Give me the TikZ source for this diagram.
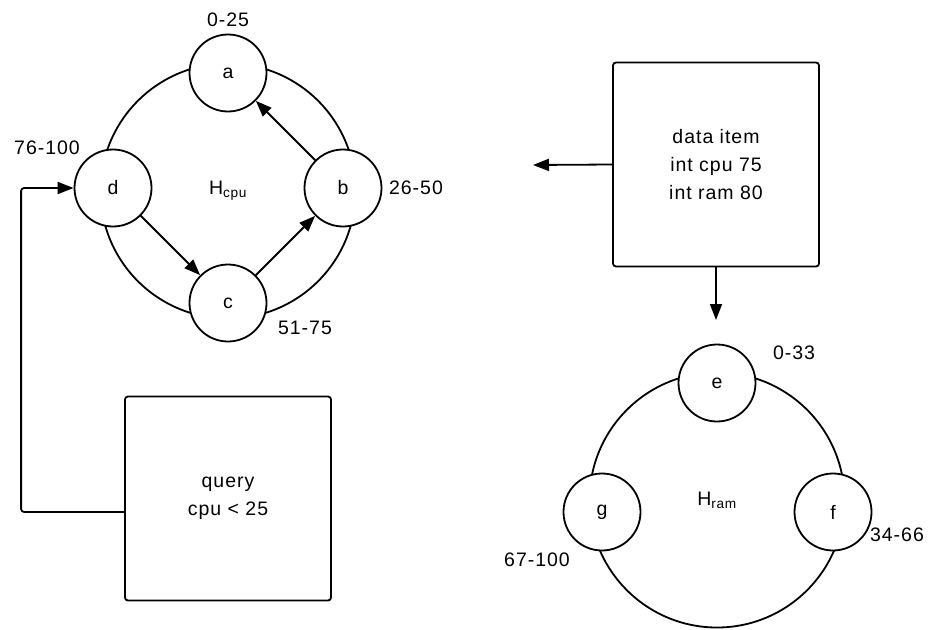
\documentclass[tikz,border=0pt]{standalone}
\usepackage{fontspec}
\setmainfont{Liberation Sans}[LetterSpace=5]
\usetikzlibrary{arrows.meta}

\begin{document}
\begin{tikzpicture}[x=1pt, y=-1pt, line width=1.8pt,
              every node/.style = {font=\fontsize{19.5}{28}\selectfont, align=center},
              ring/.style = {shape=circle, draw, minimum size=255pt, inner sep=0pt},
              slot/.style = {shape=circle, draw, fill=white, minimum size=77pt, inner sep=0pt},
              item/.style = {draw, rounded corners=3pt, minimum width=206pt, minimum height=204pt},
              arr/.style = {-{Triangle[length=16pt,width=12pt]}}]
  \useasboundingbox (0,0) rectangle (928,629);

  % cpu ring
  \node[ring] (cpu) at (228,191) {H\textsubscript{cpu}};
  \node[slot] (a) at (228,73)  {a};
  \node[slot] (b) at (343,188) {b};
  \node[slot] (c) at (228,303) {c};
  \node[slot] (d) at (113,188) {d};
  \node (ra) at (228,20)  {0-25};
  \node (rb) at (416,188) {26-50};
  \node (rc) at (305,328) {51-75};
  \node (rd) at (47,148)  {76-100};
  \draw[arr] (b) -- (a);
  \draw[arr] (d) -- (c);
  \draw[arr] (c) -- (b);

  % ram ring
  \node[ring] (ram) at (717,500) {H\textsubscript{ram}};
  \node[slot] (e) at (717,383) {e};
  \node[slot] (f) at (833,512) {f};
  \node[slot] (g) at (602,512) {g};
  \node (re) at (794,353) {0-33};
  \node (rf) at (897,535) {34-66};
  \node (rg) at (537,560) {67-100};

  % query and data item
  \node[item] (query) at (228,498.5) {query\\cpu < 25};
  \node[item] (data) at (716,164.5) {data item\\int cpu 75\\int ram 80};
  \coordinate (spill) at (533,165);
  \coordinate (drop) at (716,320);
  \draw[arr, rounded corners=3pt] ([yshift=-13.5pt]query.west) -- ++(-103,0) |- (d.west);
  \draw[arr] (data.west) -- (spill);
  \draw[arr] (data.south) -- (drop);
\end{tikzpicture}
\end{document}
